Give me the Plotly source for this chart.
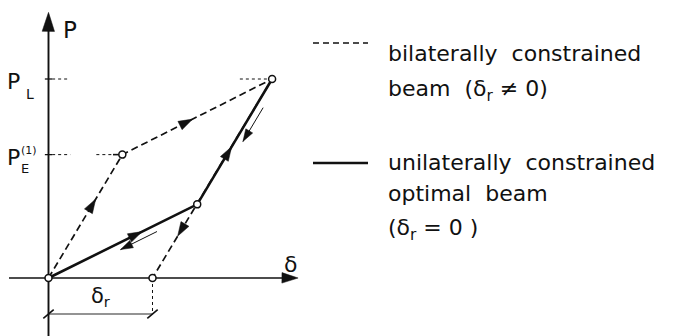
import math
import plotly.graph_objects as go

# Load-deflection diagram: bilaterally vs. unilaterally constrained beam
W, H = 673, 336

# Characteristic points (delta, P), P normalised by P_L
delta_r = 1.0
P_L = 1.0
P_E1 = 0.62
delta_E = 0.71
delta_L = 2.15
delta_K = 1.43
P_K = 0.37

# Bilateral beam (dashed): load up to P_E, then to P_L, unload to delta_r
bil_delta = [0.0, delta_E, delta_L, delta_r]
bil_P = [0.0, P_E1, P_L, 0.0]

# Unilateral optimal beam (solid): bilinear path through the kink
uni_delta = [0.0, delta_K, delta_L]
uni_P = [0.0, P_K, P_L]

# Axis ranges chosen so the origin sits at the lower left of the drawing
x_range = [-0.4663, 6.0048]
y_range = [-0.2915, 1.397]
SX = W / (x_range[1] - x_range[0])   # px per delta unit
SY = H / (y_range[1] - y_range[0])   # px per P unit

INK = "#111111"
FONT = "DejaVu Sans"

fig = go.Figure()
shapes = []
annotations = []
heads_x, heads_y, heads_ang, heads_size = [], [], [], []


def seg(x0, y0, x1, y1, width=1.0, dash="solid", color=INK, ref=("x", "y")):
    shapes.append(dict(type="line", x0=x0, y0=y0, x1=x1, y1=y1,
                       xref=ref[0], yref=ref[1], layer="below",
                       line=dict(color=color, width=width, dash=dash)))


def head(tip, direction, size=10):
    """Arrowhead marker at tip, pointing along a (delta, P) direction."""
    dxp = direction[0] * SX
    dyp = direction[1] * SY
    heads_x.append(tip[0])
    heads_y.append(tip[1])
    heads_ang.append(math.degrees(math.atan2(dxp, dyp)))
    heads_size.append(size)


def along(p0, p1, frac, offset_px=0.0):
    """Point on p0->p1 at fraction frac, shifted sideways by offset_px."""
    dxp = (p1[0] - p0[0]) * SX
    dyp = (p1[1] - p0[1]) * SY
    L = math.hypot(dxp, dyp)
    nx, ny = -dyp / L, dxp / L
    return (p0[0] + frac * (p1[0] - p0[0]) + nx * offset_px / SX,
            p0[1] + frac * (p1[1] - p0[1]) + ny * offset_px / SY)


# coordinate axes (drawn first, underneath everything)
y_top = 1.335
x_end = 2.40
fig.add_trace(go.Scatter(x=[0.0, 0.0], y=[y_range[0], y_top - 0.03], mode="lines",
                         line=dict(color=INK, width=1.9), hoverinfo="skip"))
fig.add_trace(go.Scatter(x=[-0.38, x_end - 0.05], y=[0.0, 0.0], mode="lines",
                         line=dict(color=INK, width=1.5), hoverinfo="skip"))

fig.add_trace(go.Scatter(x=bil_delta, y=bil_P, mode="lines",
                         line=dict(color=INK, width=1.7, dash="7px,4px"),
                         hoverinfo="skip"))
fig.add_trace(go.Scatter(x=uni_delta, y=uni_P, mode="lines",
                         line=dict(color=INK, width=2.6),
                         hoverinfo="skip"))

O = (bil_delta[0], bil_P[0])
E = (bil_delta[1], bil_P[1])
Lp = (bil_delta[2], bil_P[2])
R = (bil_delta[3], bil_P[3])
K = (uni_delta[1], uni_P[1])

# direction arrows on both load paths
for p0, p1, f in [(O, E, 0.64), (E, Lp, 0.47), (Lp, R, 0.79),
                  (O, K, 0.63), (K, Lp, 0.46)]:
    head(along(p0, p1, f), (p1[0] - p0[0], p1[1] - p0[1]), size=15)

# thin unloading arrows running beside the solid path
for p0, p1, f_tail, f_tip, off in [(K, O, 0.29, 0.535, 6.5),
                                   (Lp, K, 0.20, 0.47, 7.0)]:
    a = along(p0, p1, f_tail, off)
    b = along(p0, p1, f_tip, off)
    fig.add_trace(go.Scatter(x=[a[0], b[0]], y=[a[1], b[1]], mode="lines",
                             line=dict(color=INK, width=1.0), hoverinfo="skip"))
    head(b, (p1[0] - p0[0], p1[1] - p0[1]), size=13)

# ticks on the load axis and dotted leaders
for lvl in (P_L, P_E1):
    seg(-0.035, lvl, 0.035, lvl, width=1.3)
seg(0.035, P_L, 0.19, P_L, width=1.0, dash="dot")
seg(1.84, P_L, 2.10, P_L, width=1.0, dash="dot")
seg(0.035, P_E1, 0.21, P_E1, width=1.0, dash="dot")
seg(0.46, P_E1, 0.62, P_E1, width=1.0, dash="dot")
seg(0.62, P_E1, 0.68, P_E1, width=1.6)

# residual deflection dimension
y_dim = -0.181
seg(delta_r, 0.0, delta_r, y_dim, width=1.0, dash="dot")
seg(0.0, y_dim, delta_r, y_dim, width=1.4, color="#6f6f6f")
for xd in (0.0, delta_r):
    seg(xd - 0.05, y_dim - 0.022, xd + 0.05, y_dim + 0.022, width=1.6)

# open circles at the characteristic points
pts_x = [0.0, delta_E, delta_L, delta_K, delta_r]
pts_y = [0.0, P_E1, P_L, P_K, 0.0]
fig.add_trace(go.Scatter(x=pts_x, y=pts_y, mode="markers",
                         marker=dict(size=7, color="white", opacity=1,
                                     line=dict(color=INK, width=1.5)),
                         hoverinfo="skip"))

# arrowheads along the paths
fig.add_trace(go.Scatter(x=heads_x, y=heads_y, mode="markers",
                         marker=dict(symbol="arrow", size=heads_size,
                                     angle=heads_ang, color=INK, opacity=1,
                                     line=dict(width=0.5, color=INK)),
                         hoverinfo="skip"))

# arrowheads closing the two axes
fig.add_trace(go.Scatter(x=[0.0, x_end], y=[y_top, 0.0], mode="markers",
                         marker=dict(symbol="arrow", size=[20, 17], angle=[0.5, 90.5],
                                     color=INK, opacity=1,
                                     line=dict(width=0.5, color=INK)),
                         cliponaxis=False, hoverinfo="skip"))


def label(x, y, text, size, xanchor="center", yanchor="middle", ref=("x", "y")):
    annotations.append(dict(x=x, y=y, xref=ref[0], yref=ref[1], text=text,
                            showarrow=False, xanchor=xanchor, yanchor=yanchor,
                            font=dict(family=FONT, size=size, color=INK)))


label(0.12, 1.245, "P", 23, xanchor="left")
label(2.33, 0.07, "δ", 22)
label(-0.34, 0.985, "P", 22)
label(-0.18, 0.925, "L", 14)
label(-0.34, 0.605, "P", 22)
label(-0.185, 0.64, "(1)", 11)
label(-0.225, 0.55, "E", 13)
label(0.5, -0.095, "δ<sub>r</sub>", 21)

# key
shapes.append(dict(type="line", xref="paper", yref="paper",
                   x0=313 / W, x1=368 / W, y0=1 - 43 / H, y1=1 - 43 / H,
                   line=dict(color=INK, width=1.3, dash="6px,4px")))
shapes.append(dict(type="line", xref="paper", yref="paper",
                   x0=313 / W, x1=368 / W, y0=1 - 163 / H, y1=1 - 163 / H,
                   line=dict(color=INK, width=2.6)))

key_lines = [
    ("bilaterally  constrained", 53),
    ("beam  (δ<sub>r</sub> ≠ 0)", 91),
    ("unilaterally  constrained", 162),
    ("optimal  beam", 194),
    ("(δ<sub>r</sub> = 0 )", 229),
]
for txt, ypx in key_lines:
    label(386 / W, 1 - ypx / H, txt, 22, xanchor="left", ref=("paper", "paper"))

fig.update_layout(
    width=W, height=H, autosize=False,
    margin=dict(l=0, r=0, t=0, b=0),
    paper_bgcolor="white", plot_bgcolor="white",
    showlegend=False,
    xaxis=dict(range=x_range, visible=False, fixedrange=True),
    yaxis=dict(range=y_range, visible=False, fixedrange=True),
    shapes=shapes, annotations=annotations,
)

fig.write_html("out.html", config={"displayModeBar": False})
